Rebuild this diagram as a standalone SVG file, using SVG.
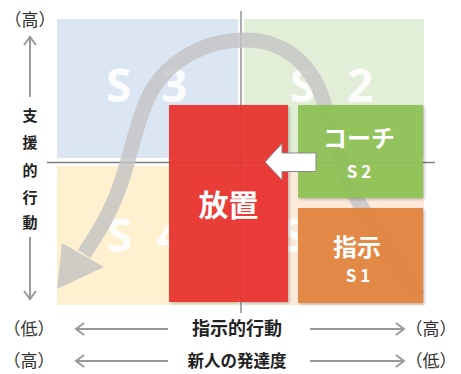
<svg xmlns="http://www.w3.org/2000/svg" width="461" height="374" viewBox="0 0 461 374">
<defs>
<style>
.big{font-family:"Noto Sans","Liberation Sans",sans-serif;font-weight:bold;font-size:46px;fill:#ffffff;fill-opacity:0.92;}
.lab{font-family:"Noto Sans CJK JP",sans-serif;font-size:17px;fill:#333;text-anchor:middle;}
.axl{font-family:"Noto Sans CJK JP",sans-serif;font-weight:bold;fill:#222;text-anchor:middle;}
.wt{font-family:"Noto Sans CJK JP",sans-serif;font-weight:bold;fill:#ffffff;text-anchor:middle;}
.arr{stroke:#9a9a9a;stroke-width:2;fill:none;}
</style>
<filter id="sh" x="-10%" y="-10%" width="130%" height="130%">
<feDropShadow dx="1.5" dy="1.5" stdDeviation="1.5" flood-color="#000" flood-opacity="0.25"/>
</filter>
</defs>
<rect width="461" height="374" fill="#ffffff"/>
<g id="quadrants">
<rect x="57" y="19" width="181" height="139" fill="#dce6f2"/>
<rect x="244" y="19" width="180" height="139" fill="#e2eed8"/>
<rect x="57" y="166" width="181" height="139" fill="#fff1cf"/>
<rect x="244" y="166" width="180" height="139" fill="#fdeada"/>
<text class="big" x="106" y="102">S</text><text class="big" x="161" y="102">3</text>
<text class="big" x="290" y="102">S</text><text class="big" x="347" y="102">2</text>
<text class="big" x="107" y="252">S</text><text class="big" x="157" y="252">4</text>
<text class="big" x="281" y="252">S</text>
</g>
<g id="axes">
<line x1="47" y1="162.5" x2="435" y2="162.5" stroke="#7f7f7f" stroke-width="1.3"/>
<line x1="241" y1="11" x2="241" y2="313" stroke="#7f7f7f" stroke-width="1.3"/>
</g>
<g id="flow" opacity="0.8">
<path d="M418,296 L362,208 C345,180 332,140 326,110 C315,65 285,40 245,40 C205,40 170,60 152,90 C138,115 132,150 122,180 C112,210 100,230 84,254" fill="none" stroke="#c4c4c4" stroke-width="15"/>
<polygon points="57,289 62,243 104,267" fill="#c4c4c4"/>
</g>
<g id="node-houchi">
<rect x="169" y="105" width="119" height="197" fill="#e8302d" opacity="0.94" filter="url(#sh)"/>
<text class="wt" x="228.5" y="216" font-size="30">放置</text>
</g>
<g id="node-coach">
<rect x="298" y="105" width="125" height="93" fill="#8fc156" opacity="0.95" filter="url(#sh)"/>
<text class="wt" x="359" y="147" font-size="24">コーチ</text>
<text class="wt" x="359" y="178" font-size="17">S 2</text>
</g>
<g id="node-shiji">
<rect x="298" y="208" width="125" height="95" fill="#e2843f" opacity="0.95" filter="url(#sh)"/>
<text class="wt" x="357" y="256" font-size="24">指示</text>
<text class="wt" x="358" y="282" font-size="17">S 1</text>
</g>
<g id="connectors">
<polygon points="265,162 282,143.5 282,153 316,153 316,171.5 282,171.5 282,180" fill="#ffffff" stroke="#8a8a8a" stroke-width="1"/>
<line class="arr" x1="30" y1="38" x2="30" y2="97"/>
<polyline class="arr" points="24,45 30,37 36,45"/>
<line class="arr" x1="30" y1="237" x2="30" y2="299"/>
<polyline class="arr" points="24,291 30,299 36,291"/>
<line class="arr" x1="76" y1="329" x2="168" y2="329"/>
<polyline class="arr" points="84,323 76,329 84,335"/>
<line class="arr" x1="310" y1="329" x2="404" y2="329"/>
<polyline class="arr" points="396,323 404,329 396,335"/>
<line class="arr" x1="76" y1="361" x2="168" y2="361"/>
<polyline class="arr" points="84,355 76,361 84,367"/>
<line class="arr" x1="310" y1="361" x2="404" y2="361"/>
<polyline class="arr" points="396,355 404,361 396,367"/>
</g>
<g id="labels">
<text class="lab" x="30" y="26">（高）</text>
<text class="axl" x="30" font-size="15"><tspan x="30" y="121">支</tspan><tspan x="30" y="148">援</tspan><tspan x="30" y="176">的</tspan><tspan x="30" y="203">行</tspan><tspan x="30" y="228">動</tspan></text>
<text class="lab" x="29" y="335">（低）</text>
<text class="lab" x="29" y="367">（高）</text>
<text class="lab" x="431" y="335">（高）</text>
<text class="lab" x="431" y="367">（低）</text>
<text class="axl" x="237" y="335" font-size="18">指示的行動</text>
<text class="axl" x="237" y="367" font-size="16.5">新人の発達度</text>
</g>
</svg>
